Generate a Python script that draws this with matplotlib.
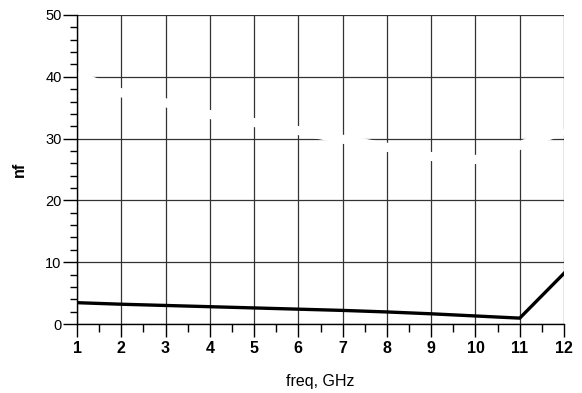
import numpy as np
import matplotlib.pyplot as plt
from matplotlib.ticker import MultipleLocator

plt.rcParams['font.family'] = ['Liberation Sans', 'DejaVu Sans']

freq = [1, 2, 3, 4, 5, 6, 7, 8, 9, 10, 11, 12]
nf = [3.45, 3.2, 3.0, 2.8, 2.6, 2.4, 2.2, 1.95, 1.65, 1.3, 0.95, 8.2]
# faint second trace drawn in white (shows only where it hides the grid)
hidden = [40.3, 37.4, 35.8, 33.9, 32.6, 31.3, 29.9, 28.6, 27.1, 26.6, 28.9, 31.3]

xticks = list(range(1, 13))
yticks = [0, 10, 20, 30, 40, 50]

fig = plt.figure(figsize=(5.82, 3.93), dpi=100)
ax = fig.add_axes([77/582, 1 - 324/393, (564 - 77)/582, (324 - 15)/393])

ax.set_axisbelow(True)
ax.grid(True, which='major', color='#333333', lw=0.9)

ax.plot(freq, hidden, color='white', lw=6.5, zorder=1, solid_capstyle='butt')
ax.plot(freq, nf, color='black', lw=2.4, zorder=3)

ax.set_xlim(1, 12)
ax.set_ylim(0, 50)
ax.set_xticks(xticks)
ax.set_yticks(yticks)
ax.xaxis.set_minor_locator(MultipleLocator(0.5))
ax.yaxis.set_minor_locator(MultipleLocator(2))

for s in ['top', 'right']:
    ax.spines[s].set_visible(False)
for s in ['left', 'bottom']:
    ax.spines[s].set_color('black')
    ax.spines[s].set_linewidth(1.0)

ax.tick_params(axis='x', which='major', length=9.5, width=1, pad=3, labelsize=11.5)
ax.tick_params(axis='x', which='minor', length=6, width=1)
ax.tick_params(axis='y', which='major', length=10, width=1, pad=1, labelsize=10.5)
ax.tick_params(axis='y', which='minor', length=5, width=1)
for lab in ax.get_xticklabels():
    lab.set_fontweight('bold')

ax.set_xlabel('freq, GHz', fontsize=11.5, labelpad=13)
ax.set_ylabel('nf', fontsize=11.5, fontweight='bold', labelpad=13)

fig.savefig('out.png', dpi=100)
